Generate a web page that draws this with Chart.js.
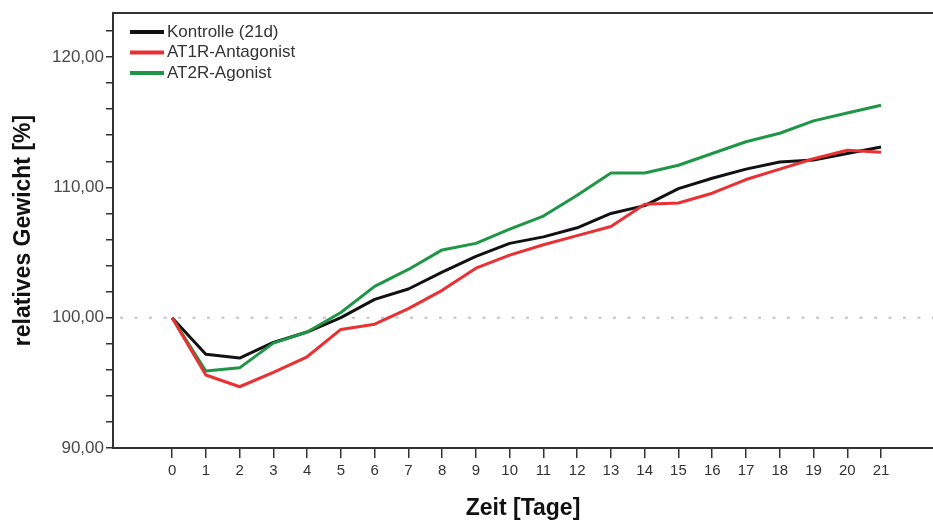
<!DOCTYPE html>
<html>
<head>
<meta charset="utf-8">
<title>Relatives Gewicht</title>
<script src="https://cdn.jsdelivr.net/npm/chart.js@4.4.1/dist/chart.umd.min.js"></script>
<style>
  html, body { margin: 0; padding: 0; background: #fff; }
  #wrap { width: 933px; height: 522px; position: relative; }
</style>
</head>
<body>
<div id="wrap"><canvas id="gewicht"></canvas></div>
<script>
// Zeitachse (Tage) und Mittelwerte in % des Ausgangsgewichts
var tage = [0, 1, 2, 3, 4, 5, 6, 7, 8, 9, 10, 11, 12, 13, 14, 15, 16, 17, 18, 19, 20, 21];
var kontrolle = [100.0, 97.2, 96.9, 98.1, 98.9, 100.0, 101.4, 102.2, 103.5, 104.7, 105.7,
                 106.2, 106.9, 108.0, 108.6, 109.9, 110.7, 111.4, 111.95, 112.1, 112.6, 113.1];
var at1r = [100.0, 95.6, 94.7, 95.8, 97.0, 99.1, 99.5, 100.7, 102.1, 103.8, 104.8,
            105.6, 106.3, 107.0, 108.7, 108.8, 109.55, 110.6, 111.4, 112.2, 112.85, 112.7];
var at2r = [100.0, 95.9, 96.15, 98.05, 98.9, 100.4, 102.4, 103.7, 105.2, 105.7, 106.8,
            107.8, 109.4, 111.1, 111.1, 111.7, 112.6, 113.5, 114.15, 115.1, 115.7, 116.3];

var yTicks = [90, 92, 94, 96, 98, 100, 102, 104, 106, 108, 110, 112, 114, 116, 118, 120, 122];
var yMarken = [90, 100, 110, 120];
var referenz = 100;

var schrift = 'Liberation Sans, Arial, Helvetica, sans-serif';

function punkte(werte) {
    return tage.map(function (t, i) { return { x: t, y: werte[i] }; });
}

// gepunktete Linie bei 100 %
var referenzLinie = {
    id: 'referenzLinie',
    beforeDatasetsDraw: function (chart) {
        var ctx = chart.ctx, area = chart.chartArea;
        var y = chart.scales.y.getPixelForValue(referenz);
        ctx.save();
        ctx.strokeStyle = '#c4c4c4';
        ctx.lineWidth = 2;
        ctx.setLineDash([3, 11.5]);
        ctx.beginPath();
        ctx.moveTo(area.left + 7, y);
        ctx.lineTo(area.right, y);
        ctx.stroke();
        ctx.restore();
    }
};

// Legende oben links im Diagramm
var legende = {
    id: 'legende',
    afterDatasetsDraw: function (chart) {
        var ctx = chart.ctx, area = chart.chartArea;
        var x0 = area.left + 17, y0 = area.top + 19;
        ctx.save();
        ctx.font = '17px ' + schrift;
        ctx.textBaseline = 'middle';
        chart.data.datasets.forEach(function (ds, i) {
            var y = y0 + i * 20.5;
            ctx.strokeStyle = ds.borderColor;
            ctx.lineWidth = 4;
            ctx.beginPath();
            ctx.moveTo(x0, y);
            ctx.lineTo(x0 + 34, y);
            ctx.stroke();
            ctx.fillStyle = '#333';
            ctx.fillText(ds.label, x0 + 37, y);
        });
        ctx.restore();
    }
};

new Chart(document.getElementById('gewicht'), {
    type: 'line',
    data: {
        datasets: [
            { label: 'Kontrolle (21d)', data: punkte(kontrolle), borderColor: '#111111', order: 3 },
            { label: 'AT1R-Antagonist', data: punkte(at1r), borderColor: '#ea3033', order: 1 },
            { label: 'AT2R-Agonist', data: punkte(at2r), borderColor: '#1f9646', order: 2 }
        ]
    },
    plugins: [referenzLinie, legende],
    options: {
        responsive: true,
        maintainAspectRatio: false,
        animation: false,
        layout: { padding: { top: 13, right: 0, bottom: 0, left: 0 } },
        elements: {
            line: { borderWidth: 3, tension: 0, borderJoinStyle: 'round' },
            point: { radius: 0, hoverRadius: 0 }
        },
        plugins: {
            legend: { display: false },
            tooltip: { enabled: false }
        },
        scales: {
            x: {
                type: 'linear',
                min: -1.75,
                max: 22.54,
                afterBuildTicks: function (s) {
                    s.ticks = tage.map(function (t) { return { value: t }; });
                },
                afterFit: function (s) { s.height = 74; },
                ticks: {
                    autoSkip: false,
                    maxRotation: 0,
                    padding: 4,
                    color: '#333',
                    font: { family: schrift, size: 15 }
                },
                grid: { drawOnChartArea: false, tickLength: 10, color: '#333', lineWidth: 1.5 },
                border: { color: '#333', width: 2 },
                title: {
                    display: true,
                    text: 'Zeit [Tage]',
                    color: '#111',
                    font: { family: schrift, size: 23, weight: 'bold' },
                    padding: { top: 0, bottom: 0 }
                }
            },
            oben: {
                type: 'linear',
                position: 'top',
                min: -1.75,
                max: 22.54,
                afterFit: function (s) { s.height = 0; },
                ticks: { display: false },
                grid: { display: false, drawTicks: false },
                border: { color: '#333', width: 2 }
            },
            y: {
                min: 90,
                max: 123.38,
                afterBuildTicks: function (s) {
                    s.ticks = yTicks.map(function (v) { return { value: v }; });
                },
                afterFit: function (s) { s.width = 113; },
                ticks: {
                    padding: 2,
                    color: '#4a4a4a',
                    font: { family: schrift, size: 17 },
                    callback: function (v) {
                        return yMarken.indexOf(v) >= 0 ? v.toFixed(2).replace('.', ',') : '';
                    }
                },
                grid: { drawOnChartArea: false, tickLength: 7, color: '#333', lineWidth: 1.5 },
                border: { color: '#333', width: 2 },
                title: {
                    display: true,
                    text: 'relatives Gewicht [%]',
                    color: '#111',
                    font: { family: schrift, size: 23, weight: 'bold' },
                    padding: { top: 10, bottom: 0 }
                }
            }
        }
    }
});
</script>
</body>
</html>
